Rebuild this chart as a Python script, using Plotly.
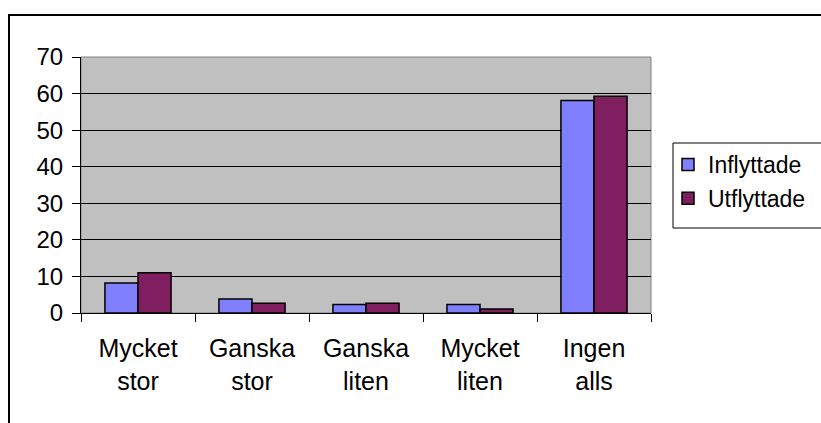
import plotly.graph_objects as go

categories = ["Mycket<br>stor", "Ganska<br>stor", "Ganska<br>liten", "Mycket<br>liten", "Ingen<br>alls"]
inflyttade = [8.2, 3.8, 2.3, 2.3, 58.1]
utflyttade = [11.0, 2.7, 2.7, 1.1, 59.3]
y_ticks = [0, 10, 20, 30, 40, 50, 60, 70]

W, H = 821, 423
L, R, T, B = 81, 170, 57, 110
pw, ph = W - L - R, H - T - B

def px_x(x):
    return (x - L) / pw

def px_y(y):
    return (H - B - y) / ph

family = "Liberation Sans, Arial, sans-serif"
axis_font = dict(family=family, size=24, color="black")
cat_font = dict(family=family, size=25, color="black")
legend_font = dict(family=family, size=23, color="black")

fig = go.Figure()
fig.add_bar(name="Inflyttade", x=categories, y=inflyttade,
            marker=dict(color="#8080FF", line=dict(color="black", width=1.5)),
            legendgroup="a")
fig.add_bar(name="Utflyttade", x=categories, y=utflyttade,
            marker=dict(color="#801F5F", line=dict(color="black", width=1.5)),
            legendgroup="b")

fig.update_layout(
    width=W, height=H,
    margin=dict(l=L, r=R, t=T, b=B, autoexpand=False),
    paper_bgcolor="white",
    plot_bgcolor="#C0C0C0",
    barmode="group",
    bargap=0.42,
    bargroupgap=0,
    font=axis_font,
    showlegend=True,
    legend=dict(xref="container", yref="container",
                x=668 / W, y=1 - 143 / H, xanchor="left", yanchor="top",
                bgcolor="rgba(0,0,0,0)", borderwidth=0,
                font=legend_font, tracegroupgap=1, itemwidth=30),
    xaxis=dict(showline=True, linecolor="black", linewidth=1,
               ticks="outside", tickson="boundaries", ticklen=8,
               tickcolor="black", showgrid=False, ticklabelstandoff=13,
               tickfont=cat_font),
    yaxis=dict(range=[0, 70], tickvals=y_ticks, showline=True,
               linecolor="black", linewidth=1, ticks="outside", ticklen=8,
               tickcolor="black", showgrid=True, gridcolor="black",
               gridwidth=1, zeroline=False, ticklabelstandoff=4,
               tickfont=axis_font),
    shapes=[
        # plot area border
        dict(type="rect", xref="paper", yref="paper", x0=0, x1=1, y0=0, y1=1,
             line=dict(color="#808080", width=1), layer="below"),
        # outer chart frame
        dict(type="rect", xref="paper", yref="paper",
             x0=px_x(9), x1=px_x(W + 20), y0=px_y(H + 20), y1=px_y(15),
             line=dict(color="black", width=2)),
        # legend frame
        dict(type="rect", xref="paper", yref="paper",
             x0=px_x(673), x1=px_x(W + 20), y0=px_y(228), y1=px_y(143),
             line=dict(color="black", width=1)),
    ],
)

fig.write_html("out.html")
